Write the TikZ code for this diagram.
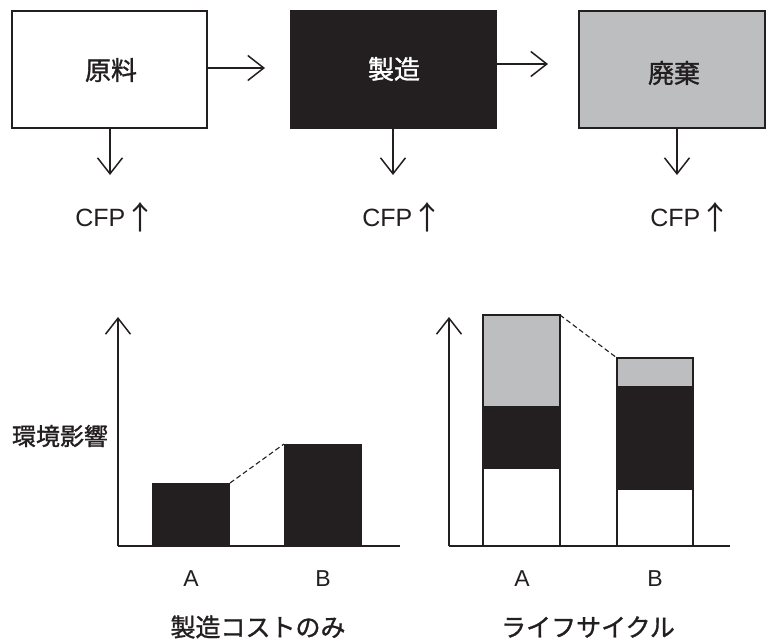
\documentclass[tikz,border=0pt]{standalone}
\usepackage{fontspec}
\setmainfont{Liberation Sans}
\newfontfamily\jp[FakeBold=1.2]{Noto Sans CJK JP}
\newfontfamily\jparr{Noto Sans CJK JP}
\usetikzlibrary{arrows.meta}
\definecolor{ink}{HTML}{231F20}
\definecolor{lgray}{HTML}{BCBEC0}
\tikzset{
  box/.style={draw=ink,line width=1.3pt,minimum height=117pt,inner sep=0pt},
  arr/.style={draw=ink,line width=1.5pt,-{Straight Barb[length=16pt,width=25pt,line width=1.5pt]}},
  axis/.style={draw=ink,line width=2pt},
  bar/.style={draw=ink,line width=1.2pt},
  lbl/.style={text=ink,inner sep=0pt,font=\fontsize{25}{30}\selectfont},
  ablbl/.style={text=ink,inner sep=0pt,font=\fontsize{23}{26}\selectfont},
  jplbl/.style={text=ink,inner sep=0pt,font=\jp\fontsize{26}{30}\selectfont},
  dashln/.style={draw=ink,line width=1.1pt,dash pattern=on 5pt off 3pt}
}
\newcommand{\uparr}{{\jparr\fontsize{32}{32}\selectfont\kern-0.5pt\raisebox{-3pt}{↑}\kern-4pt}}
\begin{document}
\begin{tikzpicture}[x=1pt,y=-1pt]
\useasboundingbox (0,0) rectangle (766,640);
% top boxes
\node[box,fill=white,minimum width=195pt] (b1) at (109.5,69.5) {};
\node[box,fill=ink,minimum width=205pt] (b2) at (393.5,69.5) {};
\node[box,fill=lgray,minimum width=186pt] (b3) at (672,69.5) {};
\node[jplbl] (t1) at (111,70) {原料};
\node[jplbl,text=white] (t2) at (394,69) {製造};
\node[jplbl] (t3) at (674,73) {廃棄};
% horizontal arrows
\coordinate (h1) at (265,68);
\coordinate (h2) at (548,64);
\draw[arr] (b1.east |- h1) -- (h1);
\draw[arr] (b2.east |- h2) -- (h2);
% down arrows
\coordinate (d1) at (110,175);
\coordinate (d2) at (393,175);
\coordinate (d3) at (677,175);
\draw[arr] (b1.south -| d1) -- (d1);
\draw[arr] (b2.south -| d2) -- (d2);
\draw[arr] (b3.south -| d3) -- (d3);
% CFP labels
\node[lbl,anchor=base] (c1) at (114,226) {CFP\uparr};
\node[lbl,anchor=base] (c2) at (401,226) {CFP\uparr};
\node[lbl,anchor=base] (c3) at (689,226) {CFP\uparr};
% left chart
\coordinate (lo) at (118,546);
\coordinate (ly) at (118,317);
\coordinate (lx) at (400,546);
\fill[ink] (152,483) rectangle (230,546);
\fill[ink] (284,444) rectangle (362,546);
\coordinate (la) at (230,483);
\coordinate (lb) at (284,444);
\draw[dashln] (la) -- (lb);
\draw[axis] (lx) -- (lo);
\draw[arr,line width=2pt] (lo) -- (ly);
\node[jplbl,font=\jp\fontsize{24}{28}\selectfont] (yl) at (60,436) {環境影響};
\node[ablbl] (lA) at (191,579) {A};
\node[ablbl] (lB) at (323,579) {B};
\node[jplbl,font=\jp\fontsize{25}{28}\selectfont] (lt) at (258,627) {製造コストのみ};
% right chart
\coordinate (ro) at (449,546);
\coordinate (ry) at (449,317);
\coordinate (rx) at (730,546);
\fill[lgray] (483,315) rectangle (560,406);
\fill[ink] (483,406) rectangle (560,468);
\fill[white] (483,468) rectangle (560,546);
\draw[bar] (483,546) -- (483,315) -- (560,315) -- (560,546);
\draw[bar] (483,468) -- (560,468);
\fill[lgray] (617,358) rectangle (693,386);
\fill[ink] (617,386) rectangle (693,489);
\draw[bar] (617,546) -- (617,358) -- (693,358) -- (693,546);
\draw[bar] (617,489) -- (693,489);
\coordinate (ra) at (560,315);
\coordinate (rb) at (617,358);
\draw[dashln] (ra) -- (rb);
\draw[axis] (rx) -- (ro);
\draw[arr,line width=2pt] (ro) -- (ry);
\node[ablbl] (rA) at (522,579) {A};
\node[ablbl] (rB) at (655,579) {B};
\node[jplbl,font=\jp\fontsize{25}{28}\selectfont] (rt) at (588,627) {ライフサイクル};
\end{tikzpicture}
\end{document}
